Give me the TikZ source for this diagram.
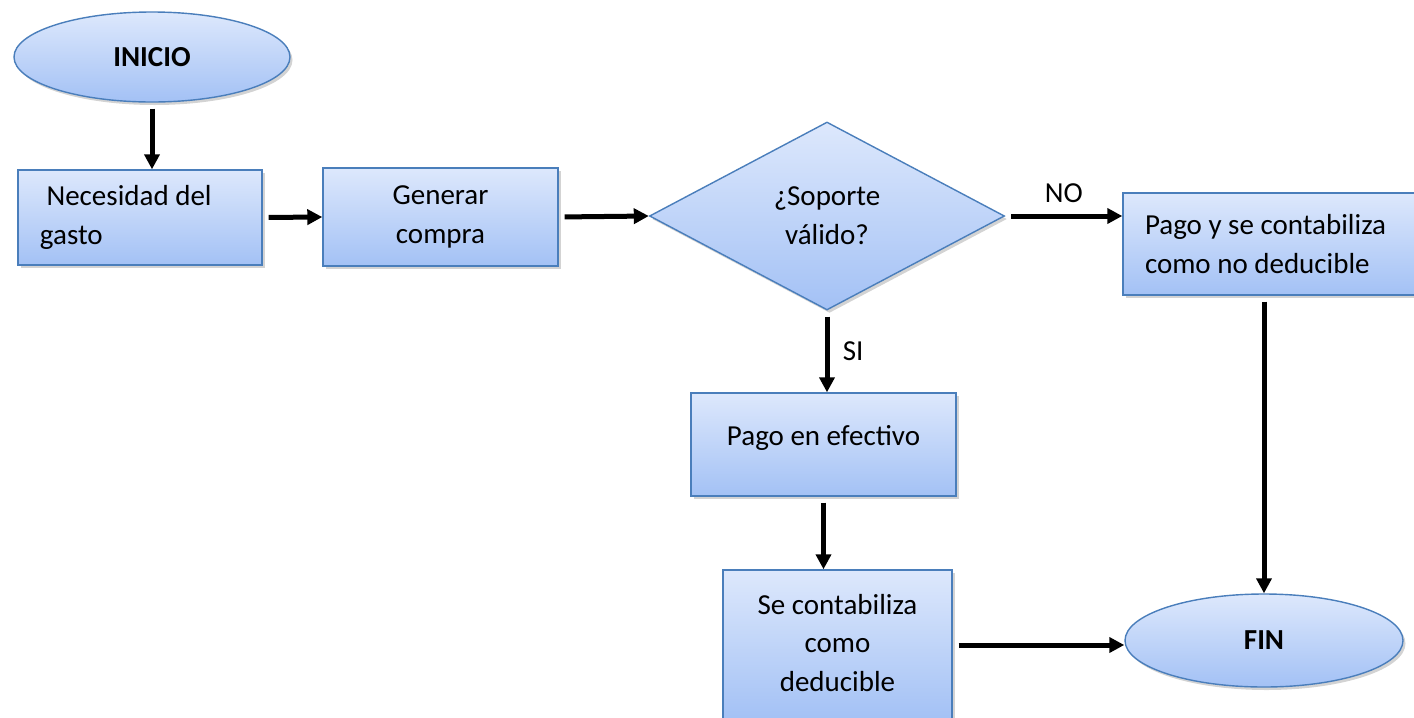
\documentclass[tikz,border=0pt]{standalone}
\usepackage{fontspec}
\setmainfont{Carlito}
\usetikzlibrary{shapes.geometric,arrows.meta,shadows}

\definecolor{borde}{HTML}{4A7EBB}
\definecolor{claro}{HTML}{DDE8FC}
\definecolor{oscuro}{HTML}{A3C1F5}

\begin{document}
\begin{tikzpicture}[
    font=\fontsize{16.5}{22}\selectfont,
    caja/.style={draw=borde, thick, top color=claro, bottom color=oscuro,
        drop shadow={opacity=0.35, shadow xshift=0.05cm, shadow yshift=-0.06cm},
        inner sep=0pt},
    flecha/.style={-{Triangle[length=0.3cm,width=0.3cm]}, line width=0.1cm,
        shorten <=0.12cm}
]
    \clip (0,0) rectangle (28.28,-14.34);

    \node[caja, ellipse, minimum width=5.52cm, minimum height=1.8cm, font=\fontsize{16.5}{22}\selectfont\bfseries] (inicio) at (3.04,-1.14) {INICIO};
    \node[caja, rectangle, minimum width=4.88cm, minimum height=1.9cm, align=flush left, text width=4.0cm] (necesidad) at (2.8,-4.35) {\ Necesidad del\\gasto};
    \node[caja, rectangle, minimum width=4.7cm, minimum height=1.96cm, align=center] (generar) at (8.81,-4.34) {Generar\\compra};
    \node[caja, diamond, minimum width=7.1cm, minimum height=3.76cm, align=center] (soporte) at (16.54,-4.32) {¿Soporte\\válido?};
    \node[caja, rectangle, minimum width=6.0cm, minimum height=2.04cm, align=flush left, text width=5.12cm] (nodeducible) at (25.46,-4.88) {Pago y se contabiliza\\como no deducible};
    \node[caja, rectangle, minimum width=5.3cm, minimum height=2.06cm] (efectivo) at (16.47,-8.89) {\raisebox{0.35cm}{Pago en efectivo}};
    \node[caja, rectangle, minimum width=4.58cm, minimum height=3.0cm] (deducible) at (16.75,-12.9) {\raisebox{0.14cm}{\begin{tabular}{@{}c@{}}Se contabiliza\\como\\deducible\end{tabular}}};
    \node[caja, ellipse, minimum width=5.56cm, minimum height=1.86cm, font=\fontsize{16.5}{22}\selectfont\bfseries] (fin) at (25.28,-12.81) {FIN};

    \draw[flecha] (inicio.south) -- (inicio.south |- necesidad.north);
    \draw[flecha] (necesidad.east) -- (generar.west);
    \draw[flecha] (generar.east) -- (soporte.west);
    \draw[flecha] (soporte.east) -- (soporte.east -| nodeducible.west) node[midway, above=0.1cm] (no) {NO};
    \draw[flecha] (soporte.south) -- (soporte.south |- efectivo.north) node[midway, right=0.15cm] (si) {SI};
    \draw[flecha] (efectivo.south) -- (efectivo.south |- deducible.north);
    \draw[flecha] (deducible.east) -- (deducible.east -| fin.west);
    \draw[flecha] (fin.north |- nodeducible.south) -- (fin.north);
\end{tikzpicture}
\end{document}
